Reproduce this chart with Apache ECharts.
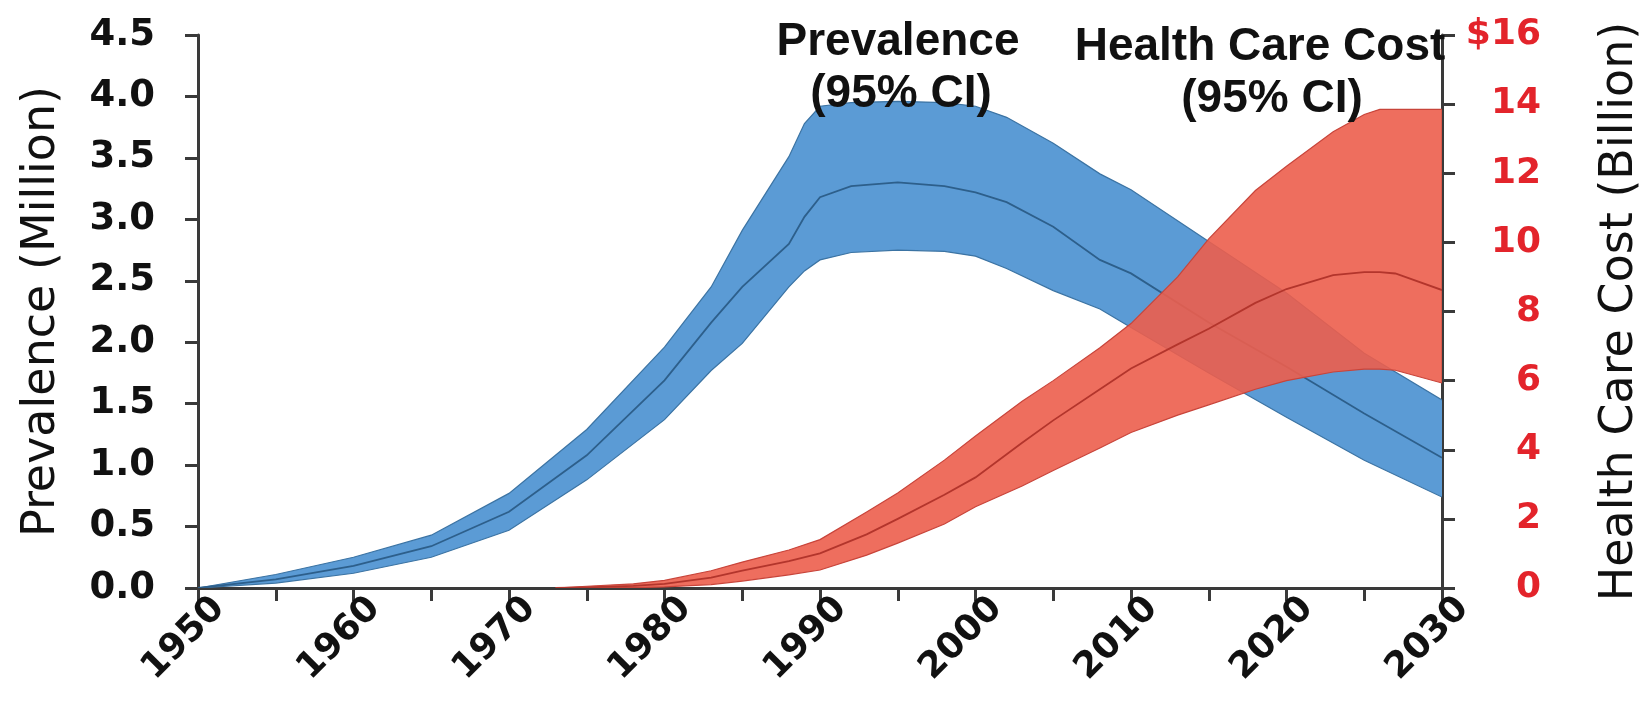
<!DOCTYPE html>
<html>
<head>
<meta charset="utf-8">
<script src="https://cdn.jsdelivr.net/npm/echarts@6/dist/echarts.min.js"></script>
<style>
  html, body { margin: 0; padding: 0; background: #fff; }
  #chart { width: 1642px; height: 713px; }
</style>
</head>
<body>
<div id="chart"></div>
<script>
// Prevalence (million people), central estimate with 95% CI
const prevYears = [1950, 1955, 1960, 1965, 1970, 1975, 1980, 1983, 1985, 1988, 1989, 1990, 1992, 1995, 1998, 2000, 2002, 2005, 2008, 2010, 2015, 2020, 2025, 2030];
const prevLow   = [0, 0.04, 0.12, 0.25, 0.47, 0.88, 1.37, 1.77, 1.99, 2.45, 2.58, 2.67, 2.73, 2.75, 2.74, 2.70, 2.60, 2.42, 2.27, 2.12, 1.75, 1.39, 1.04, 0.74];
const prevMid   = [0, 0.07, 0.18, 0.34, 0.62, 1.08, 1.69, 2.16, 2.45, 2.80, 3.02, 3.18, 3.27, 3.30, 3.27, 3.22, 3.14, 2.94, 2.67, 2.56, 2.16, 1.80, 1.42, 1.06];
const prevHigh  = [0, 0.11, 0.25, 0.43, 0.77, 1.29, 1.96, 2.45, 2.91, 3.51, 3.78, 3.92, 3.95, 3.96, 3.95, 3.92, 3.83, 3.62, 3.37, 3.24, 2.82, 2.40, 1.91, 1.53];

// Health care cost (billion $), central estimate with 95% CI
const costYears = [1973, 1975, 1978, 1980, 1983, 1985, 1988, 1990, 1993, 1995, 1998, 2000, 2003, 2005, 2008, 2010, 2013, 2015, 2018, 2020, 2023, 2025, 2026, 2027, 2030];
const costLow   = [0, 0, 0.01, 0.03, 0.10, 0.20, 0.38, 0.52, 0.95, 1.30, 1.85, 2.35, 2.95, 3.40, 4.05, 4.50, 5.00, 5.30, 5.75, 6.00, 6.25, 6.33, 6.33, 6.30, 5.93];
const costMid   = [0, 0.02, 0.06, 0.12, 0.30, 0.50, 0.78, 1.00, 1.55, 2.00, 2.70, 3.20, 4.20, 4.85, 5.75, 6.35, 7.05, 7.50, 8.25, 8.65, 9.05, 9.14, 9.14, 9.10, 8.62];
const costHigh  = [0, 0.05, 0.12, 0.22, 0.50, 0.75, 1.10, 1.40, 2.20, 2.75, 3.70, 4.40, 5.40, 6.00, 6.95, 7.65, 9.00, 10.10, 11.50, 12.20, 13.20, 13.70, 13.85, 13.85, 13.85];

// Axis tick labels
const xTickYears = [1950, 1960, 1970, 1980, 1990, 2000, 2010, 2020, 2030];
const leftTicks = ['0.0', '0.5', '1.0', '1.5', '2.0', '2.5', '3.0', '3.5', '4.0', '4.5'];
const rightTicks = ['0', '2', '4', '6', '8', '10', '12', '14', '$16'];

const BLUE = '#5b9bd5';
const BLUE_EDGE = '#3b73a3';
const BLUE_MID = '#2d5f8b';
const RED = 'rgba(236, 94, 76, 0.9)';
const RED_EDGE = '#c8443a';
const RED_MID = '#b3352c';
const AXIS = '#3a3a3a';
const NUM_FONT = '"DejaVu Sans", Verdana, sans-serif';
const TXT_FONT = '"Liberation Sans", Arial, Helvetica, sans-serif';

// Confidence band drawn through the axis scales: filled polygon between
// the bounds, thin edges, and the central estimate on top.
function bandSeries(yAxisIndex, years, low, mid, high, fill, edge, midColor, z) {
  return {
    type: 'custom',
    coordinateSystem: 'cartesian2d',
    xAxisIndex: 0,
    yAxisIndex: yAxisIndex,
    silent: true,
    z: z,
    clip: true,
    data: [[years[0], low[0]]],
    renderItem: function (params, api) {
      const up = years.map((y, i) => api.coord([y, high[i]]));
      const lo = years.map((y, i) => api.coord([y, low[i]]));
      const md = years.map((y, i) => api.coord([y, mid[i]]));
      return {
        type: 'group',
        children: [
          { type: 'polygon', shape: { points: up.concat(lo.slice().reverse()) }, style: { fill: fill } },
          { type: 'polyline', shape: { points: up }, style: { fill: null, stroke: edge, lineWidth: 1.2 } },
          { type: 'polyline', shape: { points: lo }, style: { fill: null, stroke: edge, lineWidth: 1.2 } },
          { type: 'polyline', shape: { points: md }, style: { fill: null, stroke: midColor, lineWidth: 1.8 } }
        ]
      };
    }
  };
}

const chart = echarts.init(document.getElementById('chart'), null, { renderer: 'canvas' });

chart.setOption({
  animation: false,
  backgroundColor: '#ffffff',
  grid: { left: 198, right: 200, top: 35, bottom: 125, containLabel: false, outerBoundsMode: 'none' },
  xAxis: {
    type: 'value', min: 1950, max: 2030, interval: 10,
    axisLine: { show: true, lineStyle: { color: AXIS, width: 3 } },
    axisTick: { show: true, length: 13, lineStyle: { color: AXIS, width: 3 } },
    minorTick: { show: true, splitNumber: 2, length: 13, lineStyle: { color: AXIS, width: 3 } },
    splitLine: { show: false },
    axisLabel: {
      rotate: 45, margin: -6, color: '#111', verticalAlign: 'top', lineHeight: 60,
      fontFamily: NUM_FONT, fontWeight: 'bold', fontSize: 36,
      formatter: v => xTickYears.includes(v) ? String(v) : ''
    }
  },
  yAxis: [
    {
      type: 'value', min: 0, max: 4.5, interval: 0.5, position: 'left',
      name: 'Prevalence (Million)', nameLocation: 'middle', nameRotate: 90, nameGap: 133,
      nameTextStyle: { fontFamily: NUM_FONT, fontSize: 46, color: '#111' },
      axisLine: { show: true, lineStyle: { color: AXIS, width: 3 } },
      axisTick: { show: true, length: 13, lineStyle: { color: AXIS, width: 3 } },
      splitLine: { show: false },
      axisLabel: {
        margin: 43, color: '#111', fontFamily: NUM_FONT, fontWeight: 'bold', fontSize: 37,
        formatter: v => leftTicks[Math.round(v / 0.5)]
      }
    },
    {
      type: 'value', min: 0, max: 16, interval: 2, position: 'right',
      name: 'Health Care Cost (Billion)', nameLocation: 'middle', nameRotate: 90, nameGap: 155,
      nameTextStyle: { fontFamily: NUM_FONT, fontSize: 46, color: '#111' },
      axisLine: { show: true, lineStyle: { color: AXIS, width: 3 } },
      axisTick: { show: true, length: 13, lineStyle: { color: AXIS, width: 3 } },
      splitLine: { show: false },
      axisLabel: {
        margin: 99, align: 'right', color: '#e3242b', fontFamily: NUM_FONT, fontWeight: 'bold', fontSize: 36,
        formatter: v => rightTicks[Math.round(v / 2)]
      }
    }
  ],
  series: [
    bandSeries(0, prevYears, prevLow, prevMid, prevHigh, BLUE, BLUE_EDGE, BLUE_MID, 2),
    bandSeries(1, costYears, costLow, costMid, costHigh, RED, RED_EDGE, RED_MID, 3)
  ],
  graphic: [
    { type: 'text', x: 898, y: 42, z: 100, style: { text: 'Prevalence', fill: '#111', font: 'bold 46px ' + TXT_FONT, align: 'center', verticalAlign: 'middle' } },
    { type: 'text', x: 901, y: 94, z: 100, style: { text: '(95% CI)', fill: '#111', font: 'bold 46px ' + TXT_FONT, align: 'center', verticalAlign: 'middle' } },
    { type: 'text', x: 1260, y: 47, z: 100, style: { text: 'Health Care Cost', fill: '#111', font: 'bold 46px ' + TXT_FONT, align: 'center', verticalAlign: 'middle' } },
    { type: 'text', x: 1272, y: 99, z: 100, style: { text: '(95% CI)', fill: '#111', font: 'bold 46px ' + TXT_FONT, align: 'center', verticalAlign: 'middle' } }
  ]
});
</script>
</body>
</html>
